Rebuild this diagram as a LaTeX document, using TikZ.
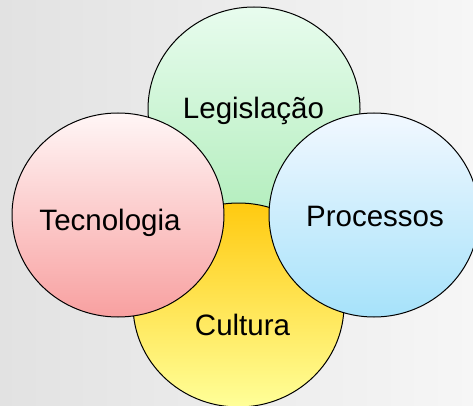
\documentclass[tikz,border=0pt]{standalone}
\usepackage{fontspec}
\setmainfont{Liberation Sans}
\begin{document}
\begin{tikzpicture}[x=1pt,y=-1pt,
  lbl/.style={anchor=base,inner sep=0pt,font=\fontsize{29.5}{34}\selectfont}]
\definecolor{bgL}{HTML}{E2E2E2}
\definecolor{bgR}{HTML}{F6F6F6}
\definecolor{legT}{HTML}{E8FCEE}
\definecolor{legB}{HTML}{B4EEBE}
\definecolor{tecT}{HTML}{FFF6F6}
\definecolor{tecB}{HTML}{F8A0A0}
\definecolor{proT}{HTML}{F2F8FF}
\definecolor{proB}{HTML}{A6E2FA}
\definecolor{culT}{HTML}{FFCA10}
\definecolor{culB}{HTML}{FFFF99}
\useasboundingbox (0,0) rectangle (473,406);
\fill[left color=bgL,right color=bgR] (0,0) rectangle (473,406);
% Legislacao
\coordinate (cLeg) at (254,109);
\draw[line width=1pt,top color=legT,bottom color=legB] (cLeg) ellipse [x radius=106,y radius=102];
% Cultura
\coordinate (cCul) at (238.5,305);
\draw[line width=1pt,top color=culT,bottom color=culB] (cCul) ellipse [x radius=105.5,y radius=102];
% Tecnologia
\coordinate (cTec) at (118,215);
\draw[line width=1pt,top color=tecT,bottom color=tecB] (cTec) ellipse [x radius=106,y radius=102];
% Processos
\coordinate (cPro) at (374,215);
\draw[line width=1pt,top color=proT,bottom color=proB] (cPro) ellipse [x radius=105,y radius=102];
\node[lbl] (tLeg) at (253.5,119) {Legislação};
\node[lbl] (tTec) at (110,230) {Tecnologia};
\node[lbl] (tPro) at (375,226) {Processos};
\node[lbl] (tCul) at (242.5,335) {Cultura};
\end{tikzpicture}
\end{document}
